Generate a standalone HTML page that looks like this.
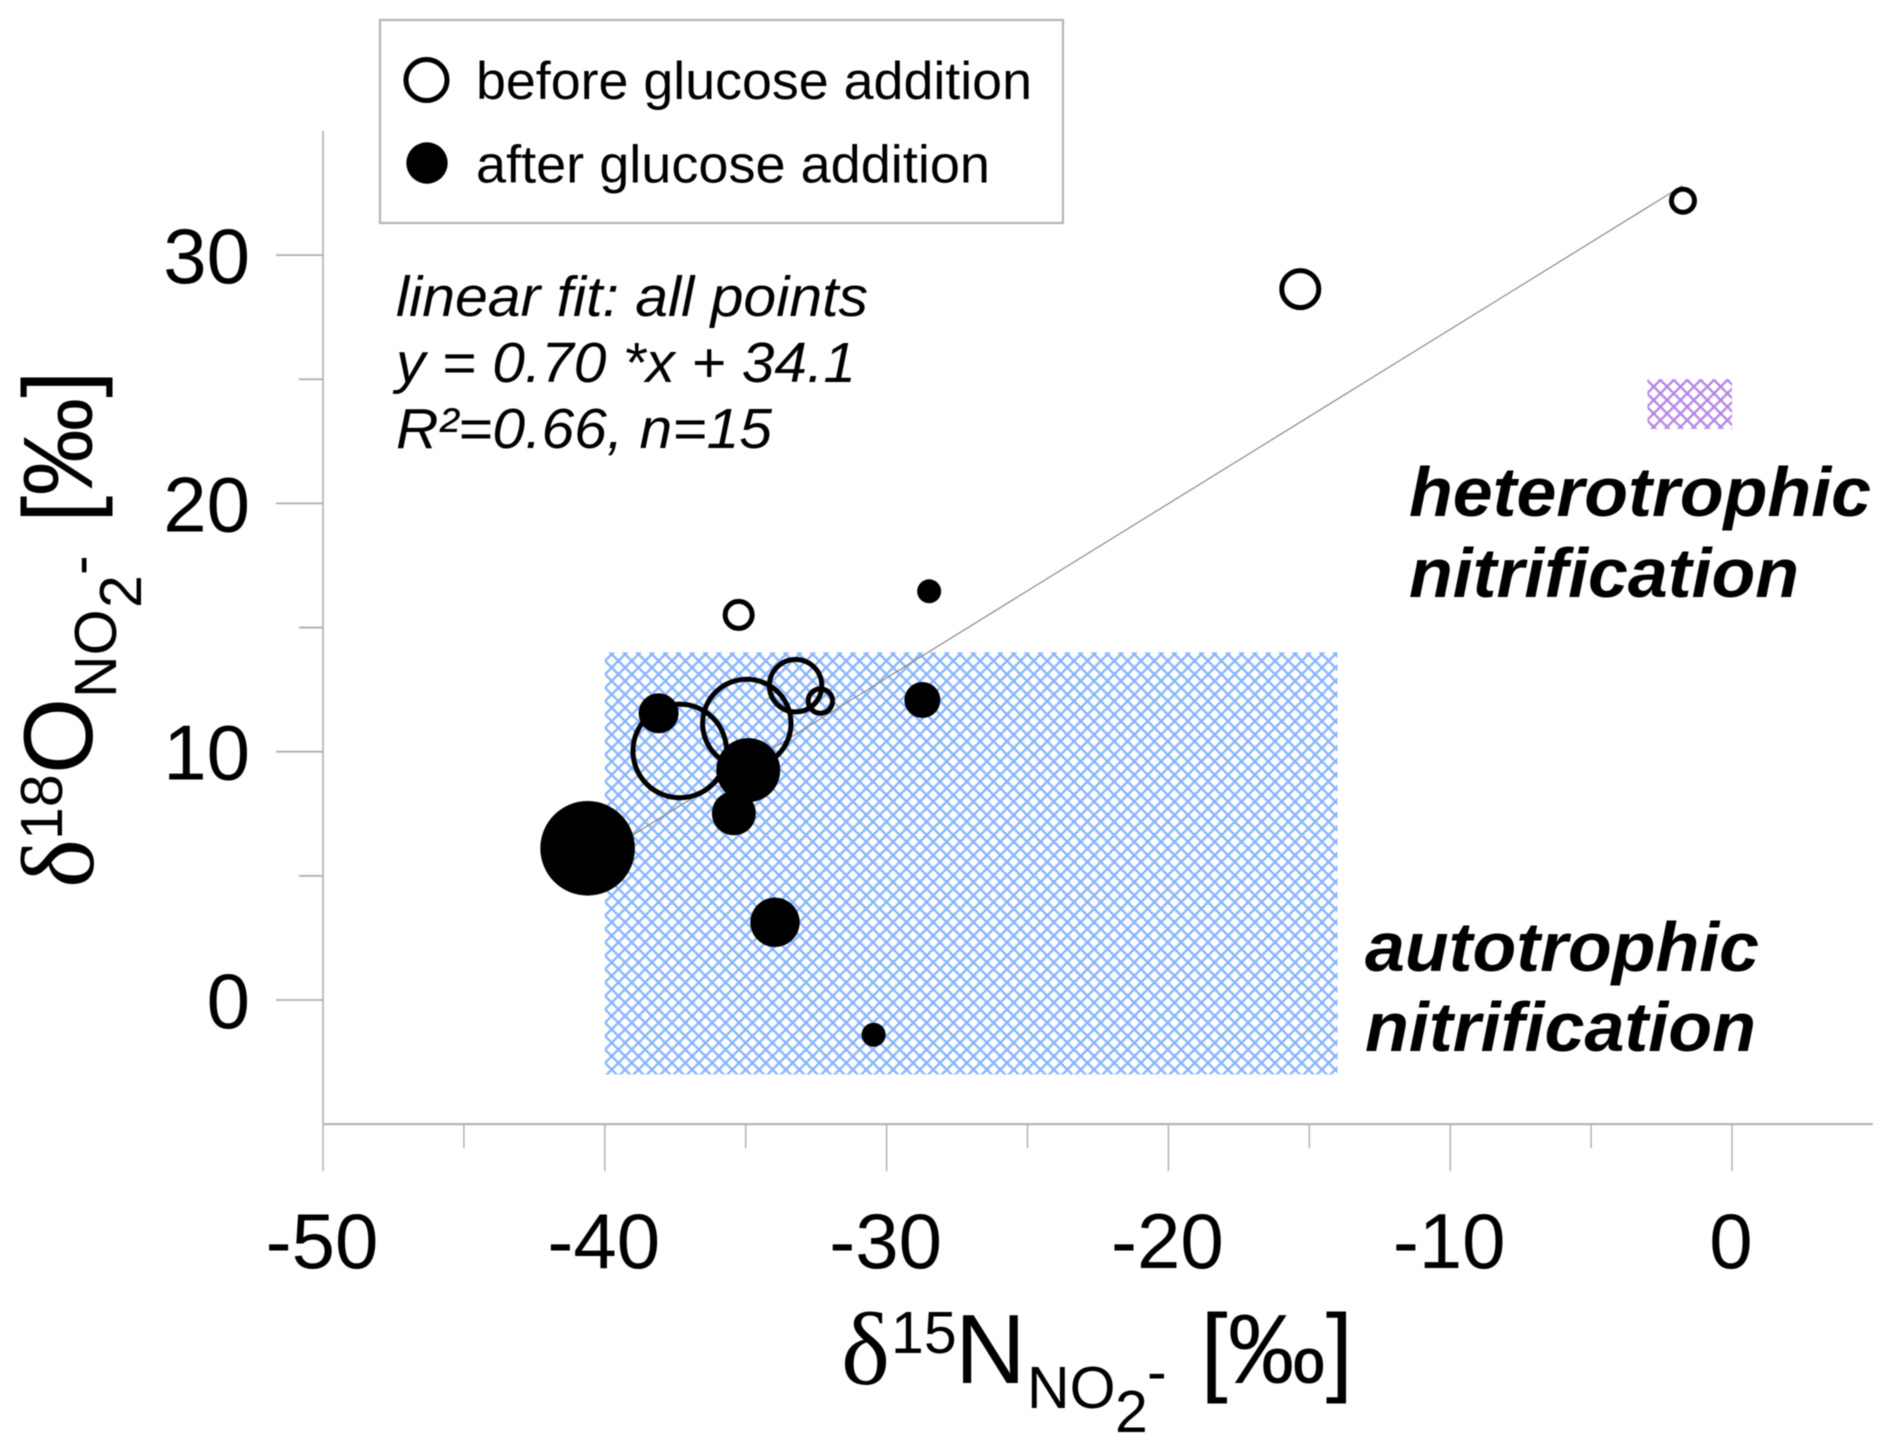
<!DOCTYPE html>
<html lang="en">
<head>
<meta charset="utf-8">
<title>Nitrite isotope scatter chart</title>
<style>
html,body{margin:0;padding:0;background:#fff;width:1892px;height:1452px;overflow:hidden}
svg{display:block;filter:blur(.45px)}
text{font-family:"Liberation Sans",Arial,sans-serif;fill:#000}
.tick{font-size:78px}
.main{font-size:98px}
.small{font-size:59px}
.serif{font-family:"Liberation Serif",serif;font-size:104px}
.fit{font-size:57px;font-style:italic}
.region{font-size:70px;font-style:italic;font-weight:bold}
.leg{font-size:53px}
</style>
</head>
<body>
<svg id="chart" xmlns="http://www.w3.org/2000/svg" width="1892" height="1452" viewBox="0 0 1892 1452">
  <defs>
    <pattern id="hatch-blue" patternUnits="userSpaceOnUse" x="605" y="1009.3" width="13.4" height="13.4">
      <path d="M0 0L13.4 13.4M13.4 0L0 13.4" stroke="#86b4ff" stroke-width="2.3" fill="none"/>
    </pattern>
    <pattern id="hatch-purple" patternUnits="userSpaceOnUse" x="1647" y="380" width="13.4" height="13.4">
      <path d="M0 0L13.4 13.4M13.4 0L0 13.4" stroke="#b585e6" stroke-width="2.3" fill="none"/>
    </pattern>
  </defs>

  <g id="regions"></g>
  <g id="axes"></g>
  <g id="fit"></g>
  <g id="open-points"></g>
  <g id="filled-points"></g>

  <g>
    <rect x="380" y="20" width="683" height="203" fill="#fff" stroke="#b6b6b6" stroke-width="2.2"/>
    <g>
      <circle cx="426.5" cy="80" r="20.5" fill="#fff" stroke="#000" stroke-width="5"/>
      <text class="leg" x="476" y="99" textLength="556" lengthAdjust="spacingAndGlyphs">before glucose addition</text>
    </g>
    <g>
      <circle cx="427" cy="163" r="20.7" fill="#000"/>
      <text class="leg" x="476" y="182.5" textLength="514" lengthAdjust="spacingAndGlyphs">after glucose addition</text>
    </g>
  </g>

  <g>
    <text class="fit" x="396" y="316" textLength="472" lengthAdjust="spacingAndGlyphs">linear fit: all points</text>
    <text class="fit" x="396" y="382" textLength="460" lengthAdjust="spacingAndGlyphs">y = 0.70 *x + 34.1</text>
    <text class="fit" x="396" y="448" textLength="376" lengthAdjust="spacingAndGlyphs">R²=0.66, n=15</text>
  </g>

  <g>
    <text class="region" x="1409" y="516" textLength="462" lengthAdjust="spacingAndGlyphs">heterotrophic</text>
    <text class="region" x="1409" y="597" textLength="390" lengthAdjust="spacingAndGlyphs">nitrification</text>
    <text class="region" x="1365" y="971" textLength="394" lengthAdjust="spacingAndGlyphs">autotrophic</text>
    <text class="region" x="1365" y="1051" textLength="391" lengthAdjust="spacingAndGlyphs">nitrification</text>
  </g>

  <g>
    <text class="serif" x="841" y="1384">δ</text>
    <text class="small" x="891" y="1353">15</text>
    <text class="main" x="955" y="1383">N</text>
    <text class="small" x="1027" y="1408">NO</text>
    <text class="small" x="1115" y="1432">2</text>
    <text class="small" x="1147" y="1392">-</text>
    <text class="main" x="1200.5" y="1383">[‰]</text>
  </g>

  <g>
    <text class="serif" transform="translate(93,888) rotate(-90)">δ</text>
    <text class="small" transform="translate(62,840) rotate(-90)">18</text>
    <text class="main" transform="translate(92,774) rotate(-90)">O</text>
    <text class="small" transform="translate(116,698) rotate(-90)">NO</text>
    <text class="small" transform="translate(141,608) rotate(-90)">2</text>
    <text class="small" transform="translate(100,575) rotate(-90)">-</text>
    <text class="main" transform="translate(92,523) rotate(-90)">[‰]</text>
  </g>
</svg>

<script>
/* chart data */
const beforeX = [-35.25, -33.23, -32.35, -34.96, -37.34, -15.32, -1.74];
const beforeY = [15.51, 12.66, 12.04, 11.14, 10.03, 28.63, 32.19];
const beforeAmount = [27, 52.4, 24.4, 88.4, 93.6, 37, 23];

const afterX = [-40.61, -38.09, -34.91, -35.42, -33.96, -30.46, -28.73, -28.49];
const afterY = [6.11, 11.55, 9.26, 7.52, 3.13, -1.40, 12.08, 16.46];
const afterAmount = [94.6, 40, 64, 44, 49.4, 24, 36, 24];

const fitX = [-40.6, -1.75];
const fitY = [5.53, 32.8];

const autotrophicX = [-40, -14];
const autotrophicY = [-3, 14];
const heterotrophicX = [-3, 0];
const heterotrophicY = [23, 25];

const xMajorTicks = [-50, -40, -30, -20, -10, 0];
const xMinorTicks = [-45, -35, -25, -15, -5];
const xTickLabels = ['-50', '-40', '-30', '-20', '-10', '0'];
const yMajorTicks = [0, 10, 20, 30];
const yMinorTicks = [5, 15, 25];
const yTickLabels = ['0', '10', '20', '30'];
const xDomain = [-50, 5];
const yDomain = [-5, 35];

const NS = 'http://www.w3.org/2000/svg';
function xScale(v) { return 1732 + 28.18 * v; }
function yScale(v) { return 1000 - 24.83 * v; }
function sizeScale(v) { return v * 0.5; }
function make(tag, attrs, parent) {
  const el = document.createElementNS(NS, tag);
  for (const k in attrs) el.setAttribute(k, attrs[k]);
  parent.appendChild(el);
  return el;
}

const regions = document.getElementById('regions');
const axes = document.getElementById('axes');
const fit = document.getElementById('fit');
const openPts = document.getElementById('open-points');
const filledPts = document.getElementById('filled-points');

/* hatched source regions */
const autoRect = make('rect', {
  x: xScale(autotrophicX[0]), y: yScale(autotrophicY[1]),
  width: xScale(autotrophicX[1]) - xScale(autotrophicX[0]),
  height: yScale(autotrophicY[0]) - yScale(autotrophicY[1]),
  fill: 'url(#hatch-blue)'
}, regions);



const hetRect = make('rect', {
  x: xScale(heterotrophicX[0]), y: yScale(heterotrophicY[1]),
  width: xScale(heterotrophicX[1]) - xScale(heterotrophicX[0]),
  height: yScale(heterotrophicY[0]) - yScale(heterotrophicY[1]),
  fill: 'url(#hatch-purple)'
}, regions);



/* axis lines */
const axisColor = '#aeaeae';
const xAxisLine = make('line', { x1: xScale(xDomain[0]), x2: xScale(xDomain[1]), y1: yScale(yDomain[0]), y2: yScale(yDomain[0]), stroke: axisColor, 'stroke-width': 2 }, axes);


const yAxisLine = make('line', { x1: xScale(xDomain[0]), x2: xScale(xDomain[0]), y1: yScale(yDomain[0]), y2: yScale(yDomain[1]), stroke: axisColor, 'stroke-width': 1.6 }, axes);



const axisY = yScale(yDomain[0]);
const axisX = xScale(xDomain[0]);

xMajorTicks.forEach(function (v, i) {
  const t = make('line', { x1: xScale(v), x2: xScale(v), y1: axisY, y2: axisY + 47, stroke: axisColor, 'stroke-width': 1.4 }, axes);
  
  
  const lab = make('text', { class: 'tick', x: xScale(v) - 1, y: 1268, 'text-anchor': 'middle' }, axes);
  lab.textContent = xTickLabels[i];
  
  
});
xMinorTicks.forEach(function (v) {
  const t = make('line', { x1: xScale(v), x2: xScale(v), y1: axisY, y2: axisY + 24, stroke: axisColor, 'stroke-width': 1.4 }, axes);
  
  
});
yMajorTicks.forEach(function (v, i) {
  const t = make('line', { x1: axisX - 47, x2: axisX, y1: yScale(v), y2: yScale(v), stroke: axisColor, 'stroke-width': 1.8 }, axes);
  
  
  const lab = make('text', { class: 'tick', x: 250, y: yScale(v) + 28, 'text-anchor': 'end' }, axes);
  lab.textContent = yTickLabels[i];
  
  
});
yMinorTicks.forEach(function (v) {
  const t = make('line', { x1: axisX - 24, x2: axisX, y1: yScale(v), y2: yScale(v), stroke: axisColor, 'stroke-width': 1.8 }, axes);
  
  
});

/* regression line */
const fitLine = make('line', { x1: xScale(fitX[0]), y1: yScale(fitY[0]), x2: xScale(fitX[1]), y2: yScale(fitY[1]), stroke: '#8a8a8a', 'stroke-width': 1.2 }, fit);



/* data points */
beforeX.forEach(function (v, i) {
  const c = make('circle', { cx: xScale(v), cy: yScale(beforeY[i]), r: sizeScale(beforeAmount[i]), fill: 'none', stroke: '#000', 'stroke-width': 5 }, openPts);
  
  
});
afterX.forEach(function (v, i) {
  const c = make('circle', { cx: xScale(v), cy: yScale(afterY[i]), r: sizeScale(afterAmount[i]), fill: '#000' }, filledPts);
  
  
});
</script>
</body>
</html>
